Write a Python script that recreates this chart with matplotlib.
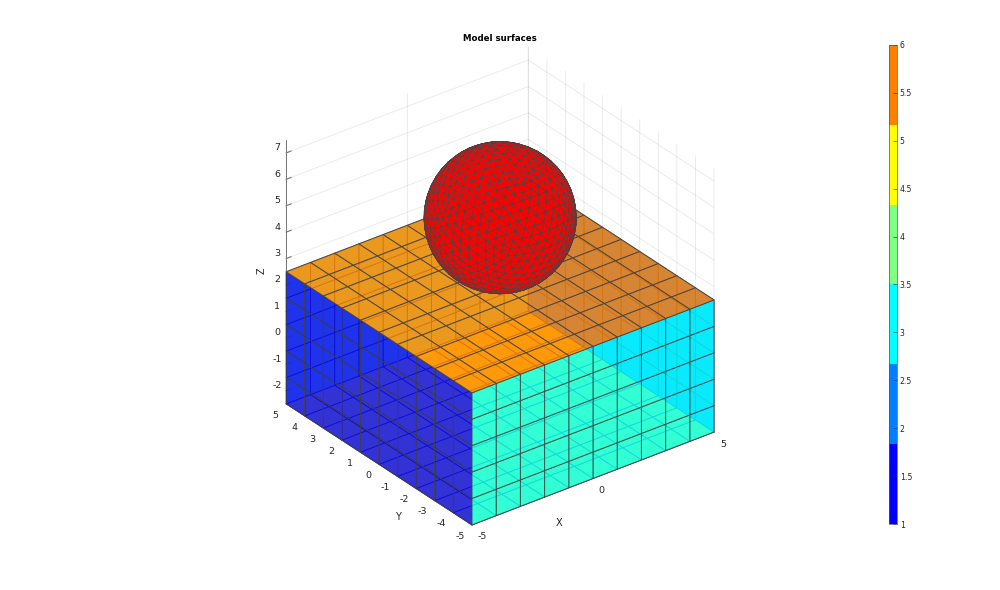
import numpy as np
import matplotlib
matplotlib.use('Agg')
import matplotlib.pyplot as plt
from matplotlib.colors import ListedColormap, BoundaryNorm
from matplotlib.cm import ScalarMappable
from mpl_toolkits.mplot3d.art3d import Poly3DCollection

plt.rcParams['axes.unicode_minus'] = False

# block mesh and limits
x_edges = [-5, -4, -3, -2, -1, 0, 1, 2, 3, 4, 5]
y_edges = [-5, -4, -3, -2, -1, 0, 1, 2, 3, 4, 5]
z_edges = [-2.5, -1.5, -0.5, 0.5, 1.5, 2.5]
x_ticks = [-5, 0, 5]
y_ticks = [-5, -4, -3, -2, -1, 0, 1, 2, 3, 4, 5]
z_ticks = [-2, -1, 0, 1, 2, 3, 4, 5, 6, 7]
z_lim = [-2.5, 7.5]

# surface labels, colormap has one entry per label
label_colors = ['#0000ff', '#0080ff', '#00ffff', '#80ff80', '#ffff00', '#ff8000']
label_left = 1      # x = -5
label_back_x = 2    # x = 5
label_front = 3     # y = -5
label_back_y = 4    # y = 5
label_bottom = 5    # z = -2.5
label_top = 6       # z = 2.5
label_sphere = '#ff0000'
cbar_ticks = [1, 1.5, 2, 2.5, 3, 3.5, 4, 4.5, 5, 5.5, 6]
cbar_labels = ['1', '1.5', '2', '2.5', '3', '3.5', '4', '4.5', '5', '5.5', '6']

sphere_center = [0, 0, 5.08]
sphere_radius = 2.5
sphere_freq = 9

view_elev = 30
view_azim = -127.5
face_alpha = 0.8
edge_col = (0.25, 0.25, 0.25, 0.8)
txt_col = '#262626'


def grid_quads(u, v, fn):
    quads = []
    for i in range(len(u) - 1):
        for j in range(len(v) - 1):
            quads.append([fn(u[i], v[j]), fn(u[i + 1], v[j]), fn(u[i + 1], v[j + 1]), fn(u[i], v[j + 1])])
    return quads


def add_face(ax, quads, label, zo):
    col = matplotlib.colors.to_rgba(label_colors[label - 1], face_alpha)
    pc = Poly3DCollection(quads, facecolors=col, edgecolors=edge_col, linewidths=0.7, zorder=zo)
    ax.add_collection3d(pc)


def geodesic_sphere(freq):
    # icosahedron, each side split into freq parts
    t = (1 + 5 ** 0.5) / 2
    v = np.array([[-1, t, 0], [1, t, 0], [-1, -t, 0], [1, -t, 0], [0, -1, t], [0, 1, t],
                  [0, -1, -t], [0, 1, -t], [t, 0, -1], [t, 0, 1], [-t, 0, -1], [-t, 0, 1]], dtype=float)
    f = [[0, 11, 5], [0, 5, 1], [0, 1, 7], [0, 7, 10], [0, 10, 11], [1, 5, 9], [5, 11, 4], [11, 10, 2],
         [10, 7, 6], [7, 1, 8], [3, 9, 4], [3, 4, 2], [3, 2, 6], [3, 6, 8], [3, 8, 9], [4, 9, 5],
         [2, 4, 11], [6, 2, 10], [8, 6, 7], [9, 8, 1]]
    tris = []
    for a, b, c in f:
        p = lambda i, j: (v[a] * (freq - i - j) + v[b] * i + v[c] * j) / freq
        for i in range(freq):
            for j in range(freq - i):
                tris.append([p(i, j), p(i + 1, j), p(i, j + 1)])
                if i + j < freq - 1:
                    tris.append([p(i + 1, j), p(i + 1, j + 1), p(i, j + 1)])
    tris = np.array(tris)
    return tris / np.linalg.norm(tris, axis=2, keepdims=True)


fig = plt.figure(figsize=(10, 5.9), dpi=100)
ax = fig.add_axes([0.2367, 0.069, 0.513, 0.8695], projection='3d', computed_zorder=False)
ax.set_proj_type('ortho')
ax.view_init(elev=view_elev, azim=view_azim)
ax.set_xlim(x_edges[0], x_edges[-1])
ax.set_ylim(y_edges[0], y_edges[-1])
ax.set_zlim(z_lim)
ax.set_box_aspect((1, 1, 1))
ax.patch.set_alpha(0)

xb, xt = x_edges[0], x_edges[-1]
yb, yt = y_edges[0], y_edges[-1]
zb, zt = z_edges[0], z_edges[-1]
# back surfaces first, they show through the front ones
add_face(ax, grid_quads(x_edges, y_edges, lambda a, b: (a, b, zb)), label_bottom, 1)
add_face(ax, grid_quads(x_edges, z_edges, lambda a, b: (a, yt, b)), label_back_y, 2)
add_face(ax, grid_quads(y_edges, z_edges, lambda a, b: (xt, a, b)), label_back_x, 3)
add_face(ax, grid_quads(y_edges, z_edges, lambda a, b: (xb, a, b)), label_left, 4)
add_face(ax, grid_quads(x_edges, z_edges, lambda a, b: (a, yb, b)), label_front, 5)
add_face(ax, grid_quads(x_edges, y_edges, lambda a, b: (a, b, zt)), label_top, 6)

# only the half of the ball facing the camera is needed
unit = geodesic_sphere(sphere_freq)
el, az = np.radians(view_elev), np.radians(view_azim)
cam = np.array([np.cos(el) * np.cos(az), np.cos(el) * np.sin(az), np.sin(el)])
unit = unit[unit.mean(axis=1) @ cam > -0.05]
tris = unit * sphere_radius + np.array(sphere_center)
ball = Poly3DCollection(tris, facecolors=label_sphere, edgecolors=(0.32, 0.25, 0.25, 1), linewidths=0.45, zorder=7)
ax.add_collection3d(ball)

ax.set_xticks(x_ticks)
ax.set_yticks(y_ticks)
ax.set_zticks(z_ticks)
for axis in [ax.xaxis, ax.yaxis, ax.zaxis]:
    axis.set_pane_color((1, 1, 1, 0))
    axis.pane.set_edgecolor((1, 1, 1, 0))
    axis._axinfo['grid'].update(color=(0.15, 0.15, 0.15, 0.1), linewidth=0.6)
    axis._axinfo['tick'].update(inward_factor=0, outward_factor=0.25)
    axis.line.set_color('#666666')
    axis.line.set_linewidth(0.6)
ax.tick_params(labelsize=6.8, labelcolor=txt_col, color='#777777', width=0.5)
ax.xaxis.set_tick_params(pad=-2)
ax.yaxis.set_tick_params(pad=-2)
ax.zaxis.set_tick_params(pad=-4)
plt.setp(ax.get_xticklabels(), ha='left', va='center')
plt.setp(ax.get_yticklabels(), ha='right', va='center')
plt.setp(ax.get_zticklabels(), ha='center', va='bottom')

# axis labels and title sit at fixed places on the figure
ax.text2D(559 / 1000, 1 - 523 / 590, 'X', transform=fig.transFigure, fontsize=7, color=txt_col, ha='center', va='center')
ax.text2D(398 / 1000, 1 - 517 / 590, 'Y', transform=fig.transFigure, fontsize=7, color=txt_col, ha='center', va='center')
ax.text2D(262 / 1000, 1 - 271 / 590, 'Z', transform=fig.transFigure, fontsize=7, color=txt_col, ha='center', va='center', rotation=90)
fig.text(0.5, 1 - 38.5 / 590, 'Model surfaces', ha='center', va='center', fontsize=6.2, fontweight='bold', color='black')

# colorbar
cax = fig.add_axes([0.889, 1 - 524 / 590, 0.008, 479 / 590])
cmap = ListedColormap(label_colors)
norm = BoundaryNorm(np.linspace(1, 6, len(label_colors) + 1), cmap.N)
cb = fig.colorbar(ScalarMappable(norm=norm, cmap=cmap), cax=cax, spacing='proportional')
cb.set_ticks(cbar_ticks)
cb.set_ticklabels(cbar_labels)
cb.minorticks_off()
cb.ax.tick_params(labelsize=5.6, colors=txt_col, direction='in', length=3, width=0.4, pad=2)
cb.outline.set_linewidth(0.5)
cb.outline.set_edgecolor('#555555')

fig.savefig('out.png', dpi=100)
